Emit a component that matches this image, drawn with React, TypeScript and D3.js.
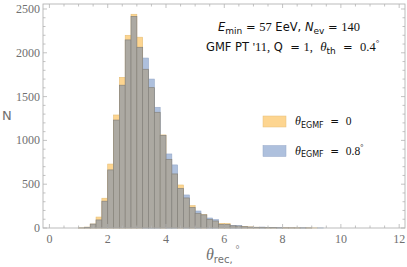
import { useEffect, useRef } from 'react';
import * as d3 from 'd3';

// histogram bins (lower edges, width 0.2 deg) and counts
const binStart = [
  1.0, 1.2, 1.4, 1.6, 1.8, 2.0, 2.2, 2.4, 2.6, 2.8, 3.0, 3.2, 3.4, 3.6, 3.8, 4.0,
  4.2, 4.4, 4.6, 4.8, 5.0, 5.2, 5.4, 5.6, 5.8, 6.0, 6.2, 6.4, 6.6, 6.8, 7.0, 7.2,
  7.4, 7.6, 7.8, 8.0, 8.2, 8.4, 8.6, 8.8, 9.0, 9.2,
];
const countEgmf0 = [
  2, 10, 45, 125, 340, 730, 1290, 1720, 2200, 2440, 2178, 1812, 1602, 1321, 1062, 784,
  617, 491, 343, 255, 168, 152, 99, 80, 53, 50, 25, 22, 15, 12, 9, 8,
  8, 6, 3, 3, 2, 2, 1, 1, 1, 0,
];
const countEgmf08 = [
  1, 8, 45, 92, 306, 663, 1232, 1630, 2147, 2416, 2063, 1940, 1700, 1378, 1058, 845,
  720, 453, 377, 236, 194, 150, 114, 95, 42, 40, 30, 27, 15, 11, 8, 10,
  6, 5, 4, 2, 2, 1, 2, 1, 0, 1,
];
const xTicks = [0, 2, 4, 6, 8, 10, 12];
const yTicks = [0, 500, 1000, 1500, 2000, 2500];

const ORANGE = '#fdd590';
const BLUE = '#aec0dd';
const GRAY = '#aca9a2';
const EDGE = '#86837d';
const FRAME = '#b4b4b4';
const LABEL = '#707070';
const SANS = 'DejaVu Sans, sans-serif';
const SERIF = 'Liberation Serif, serif';

export default function App() {
  const svgRef = useRef<SVGSVGElement>(null);
  const width = 407,
    height = 267,
    left = 43,
    right = 405,
    top = 4,
    bottom = 228;

  const x = d3.scaleLinear().domain([-0.22, 12.2]).range([left, right]);
  const y = d3.scaleLinear().domain([0, 2557]).range([bottom, top]);
  const binW = binStart[1] - binStart[0];

  useEffect(() => {
    const svg = d3.select(svgRef.current);
    const bins = binStart.map((b, i) => ({
      b,
      a: countEgmf0[i],
      c: countEgmf08[i],
    }));
    const g = svg.select('g.bars');
    // taller series underneath, overlap in gray on top
    g.selectAll('rect.hi')
      .data(bins)
      .join('rect')
      .attr('class', 'hi')
      .attr('x', (d) => x(d.b))
      .attr('width', (d) => x(d.b + binW) - x(d.b))
      .attr('y', (d) => y(Math.max(d.a, d.c)))
      .attr('height', (d) => bottom - y(Math.max(d.a, d.c)))
      .attr('fill', (d) => (d.a >= d.c ? ORANGE : BLUE))
      .attr('stroke', (d) => (d.a >= d.c ? '#e6bf78' : '#95a8c8'))
      .attr('stroke-width', 0.6);
    g.selectAll('rect.lo')
      .data(bins)
      .join('rect')
      .attr('class', 'lo')
      .attr('x', (d) => x(d.b))
      .attr('width', (d) => x(d.b + binW) - x(d.b))
      .attr('y', (d) => y(Math.min(d.a, d.c)))
      .attr('height', (d) => bottom - y(Math.min(d.a, d.c)))
      .attr('fill', GRAY)
      .attr('stroke', EDGE)
      .attr('stroke-width', 0.7);

    // frame ticks, pointing inward on all four sides
    const t = svg.select('g.ticks');
    const xMinor = d3.range(0, 12.01, 0.5);
    const yMinor = d3.range(0, 2501, 100);
    const isMajX = (v: number) => xTicks.includes(v);
    const isMajY = (v: number) => yTicks.includes(v);
    t.selectAll('line.xb')
      .data(xMinor)
      .join('line')
      .attr('class', 'xb')
      .attr('x1', (d) => x(d))
      .attr('x2', (d) => x(d))
      .attr('y1', bottom)
      .attr('y2', (d) => bottom - (isMajX(d) ? 4 : 2.5));
    t.selectAll('line.xt')
      .data(xMinor)
      .join('line')
      .attr('class', 'xt')
      .attr('x1', (d) => x(d))
      .attr('x2', (d) => x(d))
      .attr('y1', top)
      .attr('y2', (d) => top + (isMajX(d) ? 4 : 2.5));
    t.selectAll('line.yl')
      .data(yMinor)
      .join('line')
      .attr('class', 'yl')
      .attr('y1', (d) => y(d))
      .attr('y2', (d) => y(d))
      .attr('x1', left)
      .attr('x2', (d) => left + (isMajY(d) ? 4 : 2.5));
    t.selectAll('line.yr')
      .data(yMinor)
      .join('line')
      .attr('class', 'yr')
      .attr('y1', (d) => y(d))
      .attr('y2', (d) => y(d))
      .attr('x1', right)
      .attr('x2', (d) => right - (isMajY(d) ? 4 : 2.5));
    t.selectAll('line').attr('stroke', FRAME).attr('stroke-width', 0.8);
  }, []);

  return (
    <svg
      ref={svgRef}
      width={width}
      height={height}
      style={{ position: 'absolute', left: 0, top: 0, background: '#fff' }}
    >
      <g className="bars" />
      <rect
        x={left}
        y={top}
        width={right - left}
        height={bottom - top}
        fill="none"
        stroke={FRAME}
        strokeWidth={0.9}
      />
      <g className="ticks" />

      {xTicks.map((v) => (
        <text
          key={'x' + v}
          x={x(v)}
          y={243}
          textAnchor="middle"
          fontFamily={SERIF}
          fontSize={12}
          fill={LABEL}
        >
          {v}
        </text>
      ))}
      {yTicks.map((v) => (
        <text
          key={'y' + v}
          x={40}
          y={y(v) + 4}
          textAnchor="end"
          fontFamily={SERIF}
          fontSize={12}
          fill={LABEL}
        >
          {v}
        </text>
      ))}

      <text x={2} y={120} fontFamily={SANS} fontSize={13} fill={LABEL}>
        N
      </text>
      <text x={206} y={260} fill={LABEL}>
        <tspan fontFamily={SERIF} fontStyle="italic" fontSize={16}>
          θ
        </tspan>
        <tspan fontFamily={SANS} fontSize={10} dy={3}>
          rec,
        </tspan>
        <tspan fontFamily={SERIF} fontSize={10} dx={3} dy={-10}>
          °
        </tspan>
      </text>

      <text x={218} y={31} fontFamily={SANS} fontSize={11.5} fill="#111">
        <tspan fontStyle="italic">E</tspan>
        <tspan fontSize={9} dy={2.5}>
          min
        </tspan>
        <tspan dy={-2.5}>{'  =  '}</tspan>
        <tspan fontFamily={SERIF} fontSize={12.5}>
          57
        </tspan>
        <tspan>{'  EeV,  '}</tspan>
        <tspan fontStyle="italic">N</tspan>
        <tspan fontSize={9} dy={2.5}>
          ev
        </tspan>
        <tspan dy={-2.5}>{'  =  '}</tspan>
        <tspan fontFamily={SERIF} fontSize={12.5}>
          140
        </tspan>
      </text>
      <text x={206} y={51} fontFamily={SANS} fontSize={11.5} fill="#111" xmlSpace="preserve">
        <tspan>{'GMF PT '}</tspan>
        <tspan fontFamily={SERIF} fontSize={12.5}>
          '11,
        </tspan>
        <tspan>{' Q  = '}</tspan>
        <tspan fontFamily={SERIF} fontSize={12.5}>
          1,
        </tspan>
        <tspan>{'  '}</tspan>
        <tspan fontFamily={SERIF} fontStyle="italic" fontSize={13}>
          θ
        </tspan>
        <tspan fontSize={9} dy={2.5}>
          th
        </tspan>
        <tspan dy={-2.5}>{'  =  '}</tspan>
        <tspan fontFamily={SERIF} fontSize={12.5}>
          0.4
        </tspan>
        <tspan fontFamily={SERIF} fontSize={9} dy={-5}>
          °
        </tspan>
      </text>

      {[
        { c: ORANGE, s: '#e6bf78', v: '0', deg: false, yy: 116 },
        { c: BLUE, s: '#95a8c8', v: '0.8', deg: true, yy: 145.5 },
      ].map((d) => (
        <g key={d.v}>
          <rect x={263} y={d.yy} width={23} height={11} fill={d.c} stroke={d.s} strokeWidth={0.5} />
          <text x={295} y={d.yy + 9} fontFamily={SANS} fontSize={10.5} fill="#111" xmlSpace="preserve">
            <tspan fontFamily={SERIF} fontStyle="italic" fontSize={12}>
              θ
            </tspan>
            <tspan fontSize={8} dy={2.5}>
              EGMF
            </tspan>
            <tspan dy={-2.5}>{'  =  '}</tspan>
            <tspan fontFamily={SERIF} fontSize={11.5}>
              {d.v}
            </tspan>
            {d.deg && (
              <tspan fontFamily={SERIF} fontSize={8} dy={-5}>
                °
              </tspan>
            )}
          </text>
        </g>
      ))}
    </svg>
  );
}
